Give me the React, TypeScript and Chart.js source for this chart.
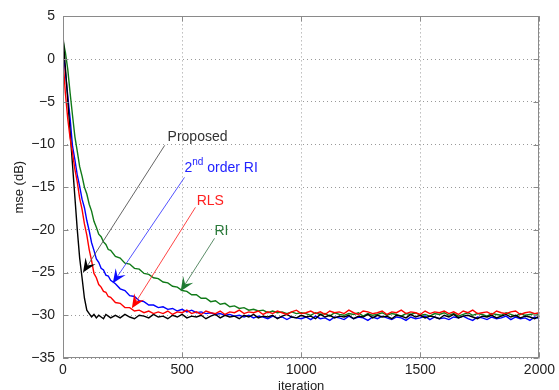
import React, { useEffect, useRef } from "react";
import { Chart, registerables } from "chart.js";

Chart.register(...registerables);

// iteration index for every sample
const ITERATIONS = [
  0, 10, 20, 30, 40, 50, 60, 70, 80, 90, 100, 110, 120, 130, 140, 150, 160, 170, 180, 190, 200,
  220, 240, 260, 280, 300, 320, 340, 360, 380, 400,
  420, 440, 460, 480, 500, 520, 540, 560, 580, 600,
  620, 640, 660, 680, 700, 720, 740, 760, 780, 800,
  820, 840, 860, 880, 900, 920, 940, 960, 980, 1000,
  1020, 1040, 1060, 1080, 1100, 1120, 1140, 1160, 1180, 1200,
  1220, 1240, 1260, 1280, 1300, 1320, 1340, 1360, 1380, 1400,
  1420, 1440, 1460, 1480, 1500, 1520, 1540, 1560, 1580, 1600,
  1620, 1640, 1660, 1680, 1700, 1720, 1740, 1760, 1780, 1800,
  1820, 1840, 1860, 1880, 1900, 1920, 1940, 1960, 1980, 2000,
];

const PROPOSED = [
  2.8, -1.0, -4.8, -8.6, -12.4, -16.2, -20.0, -23.3, -25.6, -28.0, -29.4, -29.8, -30.2, -29.9, -30.3, -30.0, -30.2, -30.4, -29.9, -30.1, -30.3,
  -30.0, -30.3, -29.9, -30.2, -30.4, -30.0, -30.1, -30.3, -29.9, -30.2,
  -30.1, -30.4, -30.0, -30.2, -29.9, -30.3, -30.1, -30.2, -30.0, -30.4,
  -30.1, -29.9, -30.3, -30.0, -30.2, -30.1, -30.4, -30.0, -30.2, -29.9,
  -30.3, -30.1, -30.2, -30.0, -30.4, -30.1, -29.9, -30.2, -30.3, -30.0,
  -30.2, -30.1, -30.4, -29.9, -30.2, -30.0, -30.3, -30.1, -30.2, -30.0,
  -30.4, -30.1, -30.2, -29.9, -30.3, -30.0, -30.2, -30.1, -30.4, -30.0,
  -30.1, -30.3, -29.9, -30.2, -30.0, -30.3, -30.1, -30.2, -30.4, -30.0,
  -30.2, -29.9, -30.3, -30.1, -30.0, -30.2, -30.4, -30.1, -30.2, -30.0,
  -30.3, -30.1, -29.9, -30.2, -30.0, -30.3, -30.1, -30.2, -30.4, -30.1,
];

const RLS = [
  0.0, -4.0, -7.0, -9.3, -11.0, -12.9, -14.4, -16.3, -17.6, -19.3, -20.6, -22.3, -23.6, -25.1, -25.6, -26.4, -26.7, -27.2, -27.3, -27.8, -27.9,
  -28.5, -28.6, -29.1, -29.1, -29.5, -29.4, -29.7, -29.5, -29.8, -29.6,
  -29.8, -29.5, -29.9, -29.6, -29.7, -29.4, -29.8, -29.6, -29.9, -29.5,
  -29.7, -29.8, -29.5, -29.9, -29.6, -29.7, -29.4, -29.8, -29.6, -29.7,
  -29.5, -29.9, -29.6, -29.8, -29.5, -29.7, -29.9, -29.6, -29.4, -29.8,
  -29.7, -29.5, -29.8, -29.6, -29.9, -29.5, -29.7, -29.6, -29.8, -29.4,
  -29.7, -29.9, -29.5, -29.6, -29.8, -29.7, -29.5, -29.9, -29.6, -29.7,
  -29.4, -29.8, -29.6, -29.7, -29.9, -29.5, -29.8, -29.6, -29.7, -29.5,
  -29.8, -29.6, -29.9, -29.5, -29.7, -29.4, -29.8, -29.7, -29.6, -29.9,
  -29.5, -29.7, -29.8, -29.6, -29.5, -29.9, -29.7, -29.6, -29.8, -29.7,
];

const RI2 = [
  1.0, -1.5, -4.3, -7.0, -10.2, -11.8, -13.6, -14.9, -16.4, -17.4, -18.9, -20.1, -21.5, -22.4, -23.4, -23.8, -24.5, -24.7, -25.3, -25.4, -25.9,
  -26.3, -26.9, -27.1, -27.7, -27.8, -28.3, -28.4, -28.8, -28.8, -29.1,
  -29.0, -29.3, -29.2, -29.5, -29.3, -29.6, -29.4, -29.7, -29.6, -29.8,
  -29.7, -29.9, -29.8, -30.0, -29.9, -30.1, -30.0, -30.2, -30.0, -30.3,
  -30.1, -30.2, -30.4, -30.1, -30.3, -30.2, -30.5, -30.2, -30.3, -30.4,
  -30.2, -30.5, -30.1, -30.4, -30.3, -30.6, -30.2, -30.3, -30.5, -30.1,
  -30.4, -30.2, -30.3, -30.6, -30.2, -30.4, -30.1, -30.3, -30.5, -30.2,
  -30.3, -30.6, -30.2, -30.4, -30.3, -30.1, -30.5, -30.2, -30.4, -30.3,
  -30.5, -30.2, -30.3, -30.1, -30.4, -30.6, -30.2, -30.3, -30.5, -30.2,
  -30.4, -30.3, -30.1, -30.5, -30.2, -30.4, -30.3, -30.6, -30.2, -30.4,
];

const RI = [
  2.2, 0.8, -1.2, -4.0, -6.6, -9.1, -10.8, -12.6, -13.7, -15.0, -15.8, -17.0, -17.8, -19.0, -19.7, -20.5, -20.8, -21.4, -21.7, -22.3, -22.4,
  -23.1, -23.3, -23.9, -24.0, -24.5, -24.6, -25.1, -25.2, -25.6, -25.7,
  -26.1, -26.2, -26.6, -26.7, -27.1, -27.2, -27.6, -27.6, -28.0, -28.0,
  -28.4, -28.3, -28.7, -28.6, -29.0, -28.9, -29.2, -29.1, -29.4, -29.3,
  -29.5, -29.4, -29.7, -29.5, -29.7, -29.6, -29.8, -29.6, -29.8, -29.7,
  -29.8, -30.0, -29.7, -29.9, -29.8, -30.1, -29.7, -29.9, -30.0, -29.8,
  -29.9, -29.7, -30.1, -29.8, -30.0, -29.9, -29.7, -30.0, -29.8, -29.9,
  -30.1, -29.8, -29.9, -29.7, -30.0, -29.9, -30.1, -29.8, -29.9, -29.7,
  -30.0, -29.8, -30.1, -29.9, -29.7, -30.0, -29.8, -29.9, -30.1, -29.8,
  -29.9, -30.0, -29.7, -29.9, -30.1, -29.8, -30.0, -29.9, -29.8, -29.9,
];

const X_TICKS = [0, 500, 1000, 1500, 2000];
const Y_TICKS = [5, 0, -5, -10, -15, -20, -25, -30, -35];

// annotations (data coordinates)
const ANNOT_MAIN = ["Proposed", "2", "RLS", "RI"];
const ANNOT_SUP = ["", "nd", "", ""];
const ANNOT_TAIL = ["", " order RI", "", ""];
const ANNOT_TEXT_X = [439, 510, 561, 636];
const ANNOT_TEXT_Y = [-9.1, -12.8, -16.6, -20.2];
const ARROW_FROM_X = [427, 510, 556, 636];
const ARROW_FROM_Y = [-10.1, -13.85, -17.36, -20.99];
const ARROW_TO_X = [84, 209, 289, 494];
const ARROW_TO_Y = [-25.0, -26.25, -29.18, -27.19];

const TEXT_COLORS = ["#333333", "#2222ff", "#ff2020", "#2a7a3a"];
const LINE_COLORS = ["#555555", "#4040ff", "#ff3030", "#4a8058"];
const HEAD_COLORS = ["#000000", "#0a0aff", "#ff0000", "#1e7a32"];

const FONT_FAMILY = "'Liberation Sans', Arial, Helvetica, sans-serif";
const BOX_COLOR = "#8a8a8a";

const annotPlugin = {
  id: "matlabAnnots",
  afterDatasetsDraw(chart: any) {
    const { ctx, chartArea } = chart;
    const xs = chart.scales.x;
    const ys = chart.scales.y;
    ctx.save();

    // axes box
    ctx.strokeStyle = BOX_COLOR;
    ctx.lineWidth = 1;
    ctx.setLineDash([]);
    const L = Math.round(chartArea.left) + 0.5;
    const R = Math.round(chartArea.right) - 0.5;
    const T = Math.round(chartArea.top) + 0.5;
    const B = Math.round(chartArea.bottom) - 0.5;
    ctx.strokeRect(L, T, R - L, B - T);
    // inward tick marks
    ctx.beginPath();
    X_TICKS.forEach((v) => {
      const px = Math.round(xs.getPixelForValue(v)) + 0.5;
      ctx.moveTo(px, B);
      ctx.lineTo(px, B - 5);
      ctx.moveTo(px, T);
      ctx.lineTo(px, T + 5);
    });
    Y_TICKS.forEach((v) => {
      const py = Math.round(ys.getPixelForValue(v)) + 0.5;
      ctx.moveTo(L, py);
      ctx.lineTo(L + 5, py);
      ctx.moveTo(R, py);
      ctx.lineTo(R - 5, py);
    });
    ctx.stroke();

    // arrows + labels
    for (let i = 0; i < ANNOT_MAIN.length; i++) {
      const x1 = xs.getPixelForValue(ARROW_FROM_X[i]);
      const y1 = ys.getPixelForValue(ARROW_FROM_Y[i]);
      const x2 = xs.getPixelForValue(ARROW_TO_X[i]);
      const y2 = ys.getPixelForValue(ARROW_TO_Y[i]);
      const dx = x2 - x1;
      const dy = y2 - y1;
      const len = Math.sqrt(dx * dx + dy * dy);
      const ux = dx / len;
      const uy = dy / len;
      const nx = -uy;
      const ny = ux;
      const HL = 14;
      const HW = 12;
      const notch = HL * 0.6;

      ctx.strokeStyle = LINE_COLORS[i];
      ctx.lineWidth = 0.9;
      ctx.beginPath();
      ctx.moveTo(x1, y1);
      ctx.lineTo(x2 - ux * notch, y2 - uy * notch);
      ctx.stroke();

      ctx.fillStyle = HEAD_COLORS[i];
      ctx.beginPath();
      ctx.moveTo(x2, y2);
      ctx.lineTo(x2 - ux * HL + nx * HW / 2, y2 - uy * HL + ny * HW / 2);
      ctx.lineTo(x2 - ux * notch, y2 - uy * notch);
      ctx.lineTo(x2 - ux * HL - nx * HW / 2, y2 - uy * HL - ny * HW / 2);
      ctx.closePath();
      ctx.fill();

      // text
      let tx = xs.getPixelForValue(ANNOT_TEXT_X[i]);
      const ty = ys.getPixelForValue(ANNOT_TEXT_Y[i]);
      ctx.fillStyle = TEXT_COLORS[i];
      ctx.textBaseline = "middle";
      ctx.textAlign = "left";
      ctx.font = `14px ${FONT_FAMILY}`;
      ctx.fillText(ANNOT_MAIN[i], tx, ty);
      tx += ctx.measureText(ANNOT_MAIN[i]).width;
      if (ANNOT_SUP[i]) {
        ctx.font = `10px ${FONT_FAMILY}`;
        ctx.fillText(ANNOT_SUP[i], tx, ty - 6);
        tx += ctx.measureText(ANNOT_SUP[i]).width;
      }
      if (ANNOT_TAIL[i]) {
        ctx.font = `14px ${FONT_FAMILY}`;
        ctx.fillText(ANNOT_TAIL[i], tx, ty);
      }
    }
    ctx.restore();
  },
};

function fmt(v: number): string {
  return v < 0 ? "\u2212" + Math.abs(v) : String(v);
}

export default function App() {
  const canvasRef = useRef<HTMLCanvasElement | null>(null);

  useEffect(() => {
    const canvas = canvasRef.current;
    if (!canvas) return;
    const mk = (vals: number[]) => ITERATIONS.map((x, i) => ({ x, y: vals[i] }));
    const common = { pointRadius: 0, borderWidth: 1.4, fill: false, tension: 0 };
    const chart = new Chart(canvas, {
      type: "line",
      data: {
        datasets: [
          { label: "RLS", data: mk(RLS), borderColor: "#ff0000", order: 0, ...common },
          { label: "Proposed", data: mk(PROPOSED), borderColor: "#000000", order: 1, ...common },
          { label: "2nd order RI", data: mk(RI2), borderColor: "#0000ff", order: 2, ...common },
          { label: "RI", data: mk(RI), borderColor: "#107a18", order: 3, ...common },
        ],
      },
      options: {
        animation: false,
        responsive: false,
        devicePixelRatio: 1,
        layout: { padding: { top: 16, right: 19, left: 0, bottom: 0 } },
        plugins: { legend: { display: false }, tooltip: { enabled: false } },
        scales: {
          x: {
            type: "linear",
            min: 0,
            max: 2000,
            afterBuildTicks: (s: any) => {
              s.ticks = X_TICKS.map((v) => ({ value: v }));
            },
            afterFit: (s: any) => {
              s.height = 42;
            },
            ticks: {
              padding: 4,
              color: "#222",
              font: { family: FONT_FAMILY, size: 14 },
              maxRotation: 0,
              callback: (v: any) => fmt(Number(v)),
            },
            grid: { color: "rgba(0,0,0,0.4)", drawTicks: false, lineWidth: 1 },
            border: { display: false, dash: [1, 3] },
            title: {
              display: true,
              text: "iteration",
              color: "#222",
              font: { family: FONT_FAMILY, size: 13 },
              padding: { top: 0, bottom: 6 },
            },
          },
          y: {
            type: "linear",
            min: -35,
            max: 5,
            afterBuildTicks: (s: any) => {
              s.ticks = Y_TICKS.map((v) => ({ value: v }));
            },
            afterFit: (s: any) => {
              s.width = 63;
            },
            ticks: {
              padding: 8,
              color: "#222",
              font: { family: FONT_FAMILY, size: 14 },
              callback: (v: any) => fmt(Number(v)),
            },
            grid: { color: "rgba(0,0,0,0.4)", drawTicks: false, lineWidth: 1 },
            border: { display: false, dash: [1, 3] },
            title: {
              display: true,
              text: "mse (dB)",
              color: "#222",
              font: { family: FONT_FAMILY, size: 13 },
              padding: { top: 12, bottom: 0 },
            },
          },
        },
      },
      plugins: [annotPlugin],
    } as any);
    return () => chart.destroy();
  }, []);

  return (
    <div
      style={{
        position: "fixed",
        left: 0,
        top: 0,
        width: 559,
        height: 390,
        overflow: "hidden",
        background: "#fff",
      }}
    >
      <canvas ref={canvasRef} width={559} height={400} style={{ display: "block" }} />
    </div>
  );
}
